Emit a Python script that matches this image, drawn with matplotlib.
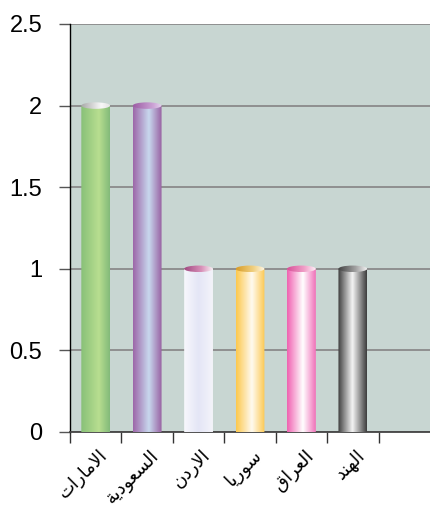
import numpy as np
import matplotlib
matplotlib.use("Agg")
import matplotlib.pyplot as plt
from matplotlib.colors import LinearSegmentedColormap
from matplotlib.patches import Ellipse, Polygon
from matplotlib.transforms import ScaledTranslation

# ---- data ----
categories = ["الامارات", "السعودية", "الاردن", "سوريا", "العراق", "الهند"]
values = [2, 2, 1, 1, 1, 1]
y_ticks = [0, 0.5, 1, 1.5, 2, 2.5]
y_tick_labels = ["0", "0.5", "1", "1.5", "2", "2.5"]

body_stops = [
    [(0, '#88c078'), (0.62, '#b8de90'), (1, '#82ba7a')],
    [(0, '#9c66a8'), (0.55, '#c8d8ee'), (1, '#9860a2')],
    [(0, '#f8f8fd'), (0.5, '#e4e6f6'), (1, '#f4f4fa')],
    [(0, '#fcc84c'), (0.55, '#fffaf0'), (1, '#fcc850')],
    [(0, '#f060b0'), (0.55, '#ffffff'), (1, '#f070b8')],
    [(0, '#3c3c3c'), (0.5, '#f4f4f4'), (1, '#3c3c3c')],
]
cap_stops = [
    [(0, '#a8a8a8'), (0.7, '#f8f8f8'), (1, '#e4e4e4')],
    [(0, '#9c5ca4'), (0.7, '#cca4d6'), (1, '#e4d4ee')],
    [(0, '#a04880'), (0.6, '#d890b8'), (1, '#f8f0f4')],
    [(0, '#d89c28'), (0.6, '#f0d080'), (1, '#fff8e8')],
    [(0, '#d85098'), (0.6, '#f0a0c8'), (1, '#fff0f8')],
    [(0, '#404040'), (0.6, '#a0a0a0'), (1, '#f0f0f0')],
]

# ---- Arabic shaping (presentation forms + visual order) ----
FORMS = {
    'ا': (0xFE8D, 0xFE8E, None, None),
    'ت': (0xFE95, 0xFE96, 0xFE97, 0xFE98),
    'ة': (0xFE93, 0xFE94, None, None),
    'د': (0xFEA9, 0xFEAA, None, None),
    'ر': (0xFEAD, 0xFEAE, None, None),
    'س': (0xFEB1, 0xFEB2, 0xFEB3, 0xFEB4),
    'ع': (0xFEC9, 0xFECA, 0xFECB, 0xFECC),
    'ق': (0xFED5, 0xFED6, 0xFED7, 0xFED8),
    'ل': (0xFEDD, 0xFEDE, 0xFEDF, 0xFEE0),
    'م': (0xFEE1, 0xFEE2, 0xFEE3, 0xFEE4),
    'ن': (0xFEE5, 0xFEE6, 0xFEE7, 0xFEE8),
    'ه': (0xFEE9, 0xFEEA, 0xFEEB, 0xFEEC),
    'و': (0xFEED, 0xFEEE, None, None),
    'ي': (0xFEF1, 0xFEF2, 0xFEF3, 0xFEF4),
}


def shape(s):
    out = []
    i = 0
    n = len(s)
    prev_joins = False
    while i < n:
        c = s[i]
        if c == 'ل' and i + 1 < n and s[i + 1] == 'ا':
            out.append(chr(0xFEFC if prev_joins else 0xFEFB))
            prev_joins = False
            i += 2
            continue
        f = FORMS.get(c)
        if f is None:
            out.append(c)
            prev_joins = False
            i += 1
            continue
        dual = f[2] is not None
        joins_next = dual and (i + 1 < n and s[i + 1] in FORMS)
        if prev_joins and joins_next:
            g = f[3]
        elif prev_joins:
            g = f[1]
        elif joins_next:
            g = f[2]
        else:
            g = f[0]
        out.append(chr(g))
        prev_joins = joins_next
        i += 1
    return ''.join(reversed(out))


plt.rcParams['font.family'] = ['Liberation Sans', 'DejaVu Sans']

fig = plt.figure(figsize=(4.3, 5.07), dpi=100)
ax = fig.add_axes([70 / 430, (507 - 432) / 507, 360 / 430, 408 / 507])
ax.set_facecolor('#c8d6d2')

x = np.arange(len(categories))
bw = 0.56
bars = ax.bar(x, values, width=bw, color='none', edgecolor='none', zorder=3)

ax.set_xlim(-0.5, 6.5)
ax.set_ylim(0, 2.5)

# ellipse height in data units (~6 px)
px_per_unit = 408 / 2.5
eh = 6.5 / px_per_unit

grad = np.linspace(0, 1, 256).reshape(1, -1)
for i, b in enumerate(bars):
    x0 = b.get_x()
    w = b.get_width()
    h = b.get_height()
    cx = x0 + w / 2
    # body clip: rectangle + lower half ellipse
    t = np.linspace(0, np.pi, 60)
    bottom = np.column_stack([cx + (w / 2) * np.cos(t), 0 - (eh / 2) * np.sin(t)])
    verts = np.vstack([[[x0, h], [x0 + w, h]], bottom])
    clip = Polygon(verts, closed=True, transform=ax.transData, facecolor='none', edgecolor='none')
    ax.add_patch(clip)
    cmap = LinearSegmentedColormap.from_list(f'b{i}', body_stops[i])
    im = ax.imshow(grad, cmap=cmap, extent=[x0, x0 + w, -eh, h], aspect='auto',
                   interpolation='bilinear', zorder=3, origin='lower')
    im.set_clip_path(clip)
    # top cap
    cap = Ellipse((cx, h), w, eh, transform=ax.transData, facecolor='none', edgecolor='none', zorder=4)
    ax.add_patch(cap)
    cmap2 = LinearSegmentedColormap.from_list(f'c{i}', cap_stops[i])
    im2 = ax.imshow(grad, cmap=cmap2, extent=[x0, x0 + w, h - eh / 2, h + eh / 2], aspect='auto',
                    interpolation='bilinear', zorder=4, origin='lower')
    im2.set_clip_path(cap)

ax.set_xlim(-0.5, 6.5)
ax.set_ylim(0, 2.5)

# grid
ax.set_yticks(y_ticks)
ax.set_yticklabels(y_tick_labels, fontsize=17)
ax.yaxis.grid(True, color='#8a8a8a', linewidth=1.3, zorder=1)
ax.set_axisbelow(True)
ax.tick_params(axis='y', length=8, width=1, color='#555555', pad=12)

# x ticks: major at boundaries (no labels), minor at centers (labels)
ax.set_xticks(np.arange(-0.5, 6.0, 1.0))
ax.set_xticklabels([])
ax.tick_params(axis='x', which='major', length=8, width=1, color='#333333')
ax.set_xticks(x, minor=True)
ax.set_xticklabels([shape(c) for c in categories], minor=True, rotation=45,
                   ha='right', va='center', rotation_mode='anchor', fontsize=13,
                   family=['DejaVu Sans'])
ax.tick_params(axis='x', which='minor', length=0, pad=15)
off = ScaledTranslation(9 / 100, 0, fig.dpi_scale_trans)
for lab in ax.get_xticklabels(minor=True):
    lab.set_transform(lab.get_transform() + off)

for s in ['top', 'right']:
    ax.spines[s].set_visible(False)
ax.spines['left'].set_color('#000000')
ax.spines['left'].set_linewidth(1)
ax.spines['bottom'].set_color('#444444')
ax.spines['bottom'].set_linewidth(1.3)

fig.savefig('out.png', dpi=100)
